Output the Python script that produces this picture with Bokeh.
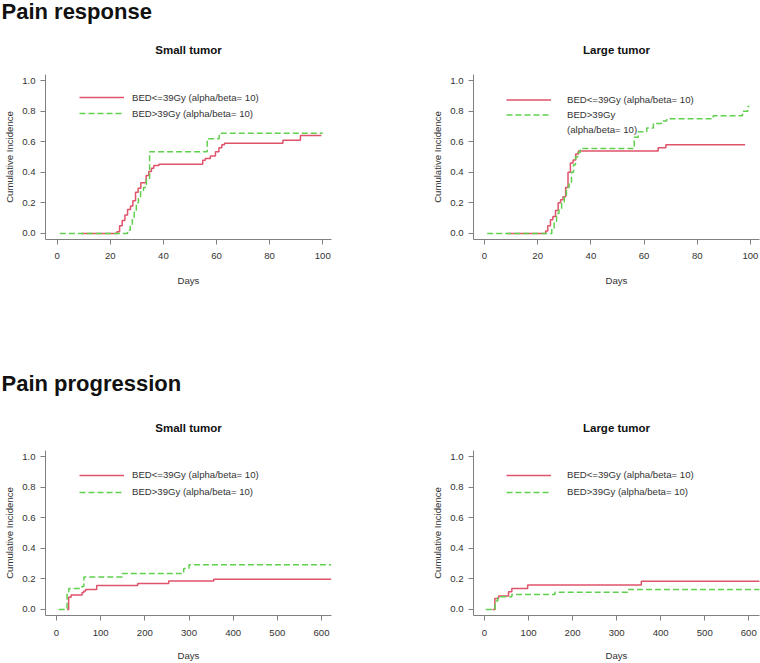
from bokeh.plotting import figure
from bokeh.models import Range1d, FixedTicker, PrintfTickFormatter, Legend, LegendItem, Title
from bokeh.layouts import column, row
from bokeh.embed import file_html
from bokeh.resources import INLINE

FONT = "Liberation Sans"
RED = "#DF536B"
GREEN = "#61D04F"
AXIS = "#808080"
TXT = "#333333"

# ---------------- data ----------------
legend_low = "BED<=39Gy (alpha/beta= 10)"
legend_high = "BED>39Gy (alpha/beta= 10)"
legend_high_a = "BED>39Gy"
legend_high_b = "(alpha/beta= 10)"

days_ticks_resp = [0, 20, 40, 60, 80, 100]
days_ticks_prog = [0, 100, 200, 300, 400, 500, 600]
ci_ticks = [0.0, 0.2, 0.4, 0.6, 0.8, 1.0]

# Pain response, small tumor
resp_small_low_t = [9, 22.5, 23.5, 24.5, 25.5, 26.5, 27.6, 28.5, 29.5, 30.5, 31.5, 33.5, 34.5,
                    35.5, 36.4, 38.3, 54.8, 55.8, 57.7, 59.6, 60.9, 62.0, 63.0, 85, 91.6, 99.5]
resp_small_low_v = [0, 0.01, 0.05, 0.085, 0.12, 0.156, 0.18, 0.214, 0.27, 0.296, 0.331, 0.379, 0.405,
                    0.427, 0.444, 0.453, 0.478, 0.49, 0.507, 0.535, 0.56, 0.58, 0.59, 0.61, 0.64, 0.64]
resp_small_high_t = [1, 26.5, 27.5, 28.3, 29.0, 29.8, 30.6, 31.4, 32.5, 33.6, 34.8, 56.5, 61, 100]
resp_small_high_v = [0, 0.02, 0.06, 0.10, 0.14, 0.20, 0.24, 0.28, 0.30, 0.36, 0.535, 0.62, 0.655, 0.655]

# Pain response, large tumor
resp_large_low_t = [8.5, 23, 23.8, 24.8, 25.7, 26.7, 27.7, 28.6, 29.5, 30.5, 31.4, 32.3, 33.3,
                    34.3, 35.3, 65.3, 68.2, 98]
resp_large_low_v = [0, 0.015, 0.05, 0.09, 0.11, 0.15, 0.20, 0.22, 0.24, 0.30, 0.40, 0.46, 0.48,
                    0.52, 0.54, 0.56, 0.58, 0.58]
resp_large_high_t = [1, 25.3, 26.2, 27.1, 28.0, 29.0, 30.0, 30.8, 31.8, 32.7, 33.5, 34.2, 35.0,
                     36.0, 56.3, 57.8, 61, 63.5, 66.5, 68.5, 86, 97, 99, 99.6]
resp_large_high_v = [0, 0.03, 0.08, 0.13, 0.16, 0.20, 0.25, 0.30, 0.33, 0.40, 0.45, 0.50, 0.53,
                     0.555, 0.63, 0.665, 0.69, 0.72, 0.735, 0.75, 0.77, 0.80, 0.83, 0.83]

# Pain progression, small tumor
prog_small_low_t = [24, 27.5, 33, 58, 62, 66, 91, 184, 254, 356, 622]
prog_small_low_v = [0, 0.08, 0.095, 0.11, 0.12, 0.13, 0.157, 0.17, 0.186, 0.197, 0.197]
prog_small_high_t = [5, 24, 28, 58, 62, 148.7, 288, 300, 622]
prog_small_high_v = [0, 0.115, 0.137, 0.15, 0.212, 0.235, 0.268, 0.293, 0.293]

# Pain progression, large tumor
prog_large_low_t = [18, 23.5, 32, 54.5, 62, 98, 356, 625]
prog_large_low_v = [0, 0.072, 0.087, 0.115, 0.137, 0.16, 0.185, 0.185]
prog_large_high_t = [3, 24, 30, 62, 160, 325, 625]
prog_large_high_v = [0, 0.055, 0.082, 0.097, 0.112, 0.13, 0.13]


def sub_title(text, standoff):
    return Title(text=text, align="center", standoff=standoff,
                 text_font=FONT, text_font_size="11.5px", text_font_style="bold",
                 text_color="#111111")


def panel(width, height, bl, br, bt, bb, xr, xticks, low, high, split_label,
          leg_loc, leg_h, leg_spacing, leg_standoff, title, title_standoff,
          heading=None, heading_standoff=0, heading_valign="bottom", xlab_std=(8, 13)):
    p = figure(width=width, height=height, output_backend="svg", toolbar_location=None,
               x_range=Range1d(*xr), y_range=Range1d(-0.04, 1.04),
               min_border_left=bl, min_border_right=br, min_border_top=bt, min_border_bottom=bb)
    p.outline_line_color = None
    p.xgrid.visible = False
    p.ygrid.visible = False
    p.background_fill_color = "white"
    p.border_fill_color = "white"

    r1 = p.step(x=low[0], y=low[1], mode="after", line_color=RED, line_width=1.5)
    r2 = p.step(x=high[0], y=high[1], mode="after", line_color=GREEN, line_width=1.5,
                line_dash="6 3")

    p.xaxis.ticker = FixedTicker(ticks=xticks)
    p.yaxis.ticker = FixedTicker(ticks=ci_ticks)
    p.yaxis.formatter = PrintfTickFormatter(format="%.1f")
    p.xaxis.axis_label = "Days"
    p.yaxis.axis_label = "Cumulative Incidence"
    for ax in (p.xaxis, p.yaxis):
        ax.axis_line_color = AXIS
        ax.major_tick_line_color = AXIS
        ax.minor_tick_line_color = None
        ax.major_tick_in = 0
        ax.major_tick_out = 5
        ax.major_label_text_font = FONT
        ax.major_label_text_font_size = "9.6px"
        ax.major_label_text_color = TXT
        ax.axis_label_text_font = FONT
        ax.axis_label_text_font_size = "9.6px"
        ax.axis_label_text_font_style = "normal"
        ax.axis_label_text_color = TXT
    p.xaxis.major_label_standoff = xlab_std[0]
    p.xaxis.axis_label_standoff = xlab_std[1]
    p.yaxis.major_label_standoff = 5
    p.yaxis.axis_label_standoff = 4

    if split_label:
        items = [LegendItem(label=legend_low, renderers=[r1]),
                 LegendItem(label=legend_high_a, renderers=[r2]),
                 LegendItem(label=legend_high_b, renderers=[])]
    else:
        items = [LegendItem(label=legend_low, renderers=[r1]),
                 LegendItem(label=legend_high, renderers=[r2])]
    leg = Legend(items=items, location=leg_loc, orientation="vertical",
                 glyph_width=45, glyph_height=leg_h, label_height=leg_h, spacing=leg_spacing,
                 padding=0, margin=0, label_standoff=leg_standoff,
                 border_line_color=None, background_fill_alpha=0,
                 label_text_font=FONT, label_text_font_size="9.6px", label_text_color=TXT)
    p.add_layout(leg)

    if heading:
        # outermost title: the section heading; inner title: the panel title
        p.title = Title(text=heading, align="left", offset=-44, standoff=heading_standoff,
                        vertical_align=heading_valign,
                        text_font=FONT, text_font_size="22px", text_font_style="bold",
                        text_color="#111111")
        p.add_layout(sub_title(title, title_standoff), "above")
    else:
        p.title = sub_title(title, title_standoff)
    return p


TOP_H, BOT_H = 360, 303
LW, RW = 380, 380

tl = panel(LW, TOP_H, 45, 49, 74, 121, (-4.4, 103.3), days_ticks_resp,
           (resp_small_low_t, resp_small_low_v), (resp_small_high_t, resp_small_high_v),
           False, (34, 119), 14, 2, 8, "Small tumor", 37,
           heading="Pain response", heading_standoff=-4, heading_valign="top")
tr = panel(RW, TOP_H, 93, 1, 74, 121, (-4.14, 103.4), days_ticks_resp,
           (resp_large_low_t, resp_large_low_v), (resp_large_high_t, resp_large_high_v),
           True, (33, 103.5), 13, 2, 16, "Large tumor", 37)
bl = panel(LW, BOT_H, 45, 49, 90, 48, (-24.9, 622.6), days_ticks_prog,
           (prog_small_low_t, prog_small_low_v), (prog_small_high_t, prog_small_high_v),
           False, (34, 116.5), 14, 3, 8, "Small tumor", 33,
           heading="Pain progression", heading_standoff=16, xlab_std=(9, 11))
br = panel(RW, BOT_H, 93, 1, 90, 48, (-25.0, 624.3), days_ticks_prog,
           (prog_large_low_t, prog_large_low_v), (prog_large_high_t, prog_large_high_v),
           False, (33, 116.5), 14, 3, 16, "Large tumor", 33, xlab_std=(9, 11))

layout = column(row(tl, tr), row(bl, br))
open("out.html", "w").write(file_html(layout, INLINE))
